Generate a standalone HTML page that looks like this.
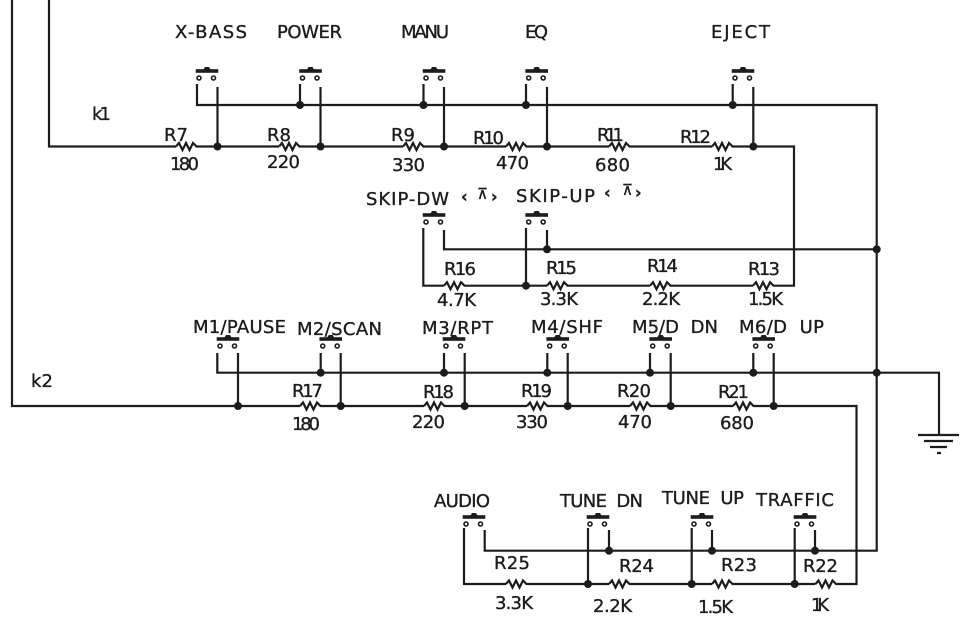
<!DOCTYPE html>
<html><head><meta charset="utf-8"><style>
html,body{margin:0;padding:0;background:#fff;width:963px;height:627px;overflow:hidden}
svg{display:block}
text{font-family:"DejaVu Sans","Liberation Sans",sans-serif;font-size:18px;fill:#1c1c1c;stroke:#1c1c1c;stroke-width:.35}
.w{fill:none;stroke:#1c1c1c;stroke-width:2.2;stroke-linejoin:miter}
.s{font-size:16px;font-weight:bold}
.c{font-size:15px}
</style></head><body>
<svg width="963" height="627" viewBox="0 0 963 627" xmlns="http://www.w3.org/2000/svg">
<defs>
<g id="sw"><rect x="-11.3" y="-1.8" width="22.6" height="3.6" fill="#1c1c1c"/><path d="M-5 -1 Q-3.5 -1 -2 -4 L2 -4 Q3.5 -1 5 -1Z" fill="#1c1c1c"/><circle cx="-8" cy="7" r="2" fill="#fff" stroke="#1c1c1c" stroke-width="1.6"/><circle cx="6.5" cy="7" r="2" fill="#fff" stroke="#1c1c1c" stroke-width="1.6"/></g>
<g id="r"><line x1="0" y1="0" x2="21" y2="0" stroke="#fff" stroke-width="3.6"/><polyline class="w" points="0,0 3,-3.5 6.5,3.5 10,-3.5 13.5,3.5 17,-3.5 20.5,0 21,0"/></g>
<circle id="d" r="4" fill="#1c1c1c"/>
</defs>

<g class="w">
<path d="M12 0V406H856.5V584H464V528"/>
<path d="M49 0V146.5H794V285.7H423.3V228"/>
<path d="M197 84V105H876.7V550.7H484.7V530"/>
<path d="M217.5 87V146.5M320.5 87V146.5M444 87V146.5M547 87V146.5M753.3 87V146.5"/>
<path d="M300 84V105M423.5 84V105M526 84V105M732.7 84V105"/>
<path d="M444 230V249.3H876.7M547 230V249.3M526 228V285.7"/>
<path d="M217.3 353V372.7H939V434"/>
<path d="M238 353V406M340.7 353V406M464.7 353V406M567.7 353V406M670.7 353V406M773.7 353V406"/>
<path d="M320.7 353V372.7M444 353V372.7M547.3 353V372.7M650 353V372.7M753.3 353V372.7"/>
<path d="M588 528V584M691.7 528V584M794.7 528V584"/>
<path d="M609 530V550.7M712 530V550.7M815 530V550.7"/>
<path d="M918 435H959M924 441H953M930 447H947M937 453H941"/>
</g>

<use href="#sw" x="207" y="71"/><use href="#sw" x="310.5" y="71"/><use href="#sw" x="434" y="71"/><use href="#sw" x="536.7" y="71"/><use href="#sw" x="743" y="71"/>
<use href="#sw" x="434" y="215"/><use href="#sw" x="536.7" y="215"/>
<use href="#sw" x="228" y="339"/><use href="#sw" x="330.7" y="339"/><use href="#sw" x="454" y="339"/><use href="#sw" x="557.7" y="339"/><use href="#sw" x="660.7" y="339"/><use href="#sw" x="763.7" y="339"/>
<use href="#sw" x="474" y="517"/><use href="#sw" x="598" y="517"/><use href="#sw" x="702" y="517"/><use href="#sw" x="805" y="517"/>

<use href="#r" x="176" y="146.5"/><use href="#r" x="279" y="146.5"/><use href="#r" x="403" y="146.5"/><use href="#r" x="506" y="146.5"/><use href="#r" x="609" y="146.5"/><use href="#r" x="712" y="146.5"/>
<use href="#r" x="444" y="285.7"/><use href="#r" x="547" y="285.7"/><use href="#r" x="650" y="285.7"/><use href="#r" x="753" y="285.7"/>
<use href="#r" x="300" y="406"/><use href="#r" x="424" y="406"/><use href="#r" x="527" y="406"/><use href="#r" x="630" y="406"/><use href="#r" x="733" y="406"/>
<use href="#r" x="506" y="584"/><use href="#r" x="609" y="584"/><use href="#r" x="712" y="584"/><use href="#r" x="815.5" y="584"/>

<use href="#d" x="300" y="105"/><use href="#d" x="423.5" y="105"/><use href="#d" x="526" y="105"/><use href="#d" x="732.7" y="105"/>
<use href="#d" x="217.5" y="146.5"/><use href="#d" x="320.5" y="146.5"/><use href="#d" x="444" y="146.5"/><use href="#d" x="547" y="146.5"/><use href="#d" x="753.3" y="146.5"/>
<use href="#d" x="547" y="249.3"/><use href="#d" x="876.7" y="249.3"/><use href="#d" x="526" y="285.7"/>
<use href="#d" x="320.7" y="372.7"/><use href="#d" x="444" y="372.7"/><use href="#d" x="547.3" y="372.7"/><use href="#d" x="650" y="372.7"/><use href="#d" x="753.3" y="372.7"/><use href="#d" x="876.7" y="372.7"/>
<use href="#d" x="238" y="406"/><use href="#d" x="340.7" y="406"/><use href="#d" x="464.7" y="406"/><use href="#d" x="567.7" y="406"/><use href="#d" x="670.7" y="406"/><use href="#d" x="773.7" y="406"/>
<use href="#d" x="609" y="550.7"/><use href="#d" x="712" y="550.7"/><use href="#d" x="815" y="550.7"/>
<use href="#d" x="588" y="584"/><use href="#d" x="691.7" y="584"/><use href="#d" x="794.7" y="584"/>

<g>
<text x="175" y="38" textLength="72">X-BASS</text>
<text x="277" y="38" textLength="65">POWER</text>
<text x="401" y="38" textLength="48">MANU</text>
<text x="525" y="38" textLength="23">EQ</text>
<text x="711" y="38" textLength="59">EJECT</text>
<text x="92" y="120" textLength="19">k1</text>
<text x="164" y="141" textLength="24">R7</text>
<text x="170" y="170" textLength="29">180</text>
<text x="267" y="141" textLength="24">R8</text>
<text x="267" y="168" textLength="33">220</text>
<text x="391" y="141" textLength="24">R9</text>
<text x="392" y="171" textLength="33">330</text>
<text x="473" y="144" textLength="31">R10</text>
<text x="496" y="169" textLength="33">470</text>
<text x="597" y="141" textLength="27">R11</text>
<text x="595" y="171" textLength="35">680</text>
<text x="680" y="143" textLength="31">R12</text>
<text x="713" y="170" textLength="19">1K</text>

<text x="366" y="205" textLength="83">SKIP-DW</text>
<text class="s" x="461" y="202">‹</text><text class="c" x="477" y="199">⊼</text><text class="s" x="491" y="202">›</text>
<text x="516" y="202" textLength="79">SKIP-UP</text>
<text class="s" x="604" y="198">‹</text><text class="c" x="622" y="195">⊼</text><text class="s" x="635" y="198">›</text>
<text x="444" y="275" textLength="32">R16</text>
<text x="546" y="274" textLength="31">R15</text>
<text x="647" y="272" textLength="31">R14</text>
<text x="748" y="275" textLength="32">R13</text>
<text x="437" y="306" textLength="39">4.7K</text>
<text x="540" y="305" textLength="38">3.3K</text>
<text x="642" y="305" textLength="38">2.2K</text>
<text x="748" y="305" textLength="35">1.5K</text>

<text x="193" y="333" textLength="93">M1/PAUSE</text>
<text x="297" y="335" textLength="85">M2/SCAN</text>
<text x="422" y="334" textLength="71">M3/RPT</text>
<text x="531" y="333" textLength="72">M4/SHF</text>
<text x="632" y="333" textLength="86" xml:space="preserve">M5/D  DN</text>
<text x="739" y="333" textLength="85" xml:space="preserve">M6/D  UP</text>
<text x="31" y="387" textLength="22">k2</text>
<text x="292" y="397" textLength="31">R17</text>
<text x="292" y="430" textLength="28">180</text>
<text x="423" y="398" textLength="31">R18</text>
<text x="412" y="428" textLength="33">220</text>
<text x="521" y="397" textLength="31">R19</text>
<text x="516" y="428" textLength="32">330</text>
<text x="617" y="397" textLength="34">R20</text>
<text x="618" y="428" textLength="34">470</text>
<text x="718" y="398" textLength="31">R21</text>
<text x="720" y="429" textLength="34">680</text>

<text x="434" y="507" textLength="56">AUDIO</text>
<text x="560" y="507" textLength="83" xml:space="preserve">TUNE  DN</text>
<text x="662" y="504" textLength="82" xml:space="preserve">TUNE  UP</text>
<text x="756" y="506" textLength="78">TRAFFIC</text>
<text x="494" y="569" textLength="36">R25</text>
<text x="619" y="572" textLength="35">R24</text>
<text x="721" y="571" textLength="36">R23</text>
<text x="803" y="572" textLength="35">R22</text>
<text x="495" y="609" textLength="38">3.3K</text>
<text x="593" y="612" textLength="39">2.2K</text>
<text x="698" y="613" textLength="35">1.5K</text>
<text x="811" y="611" textLength="18">1K</text>
</g>
</svg>
</body></html>
